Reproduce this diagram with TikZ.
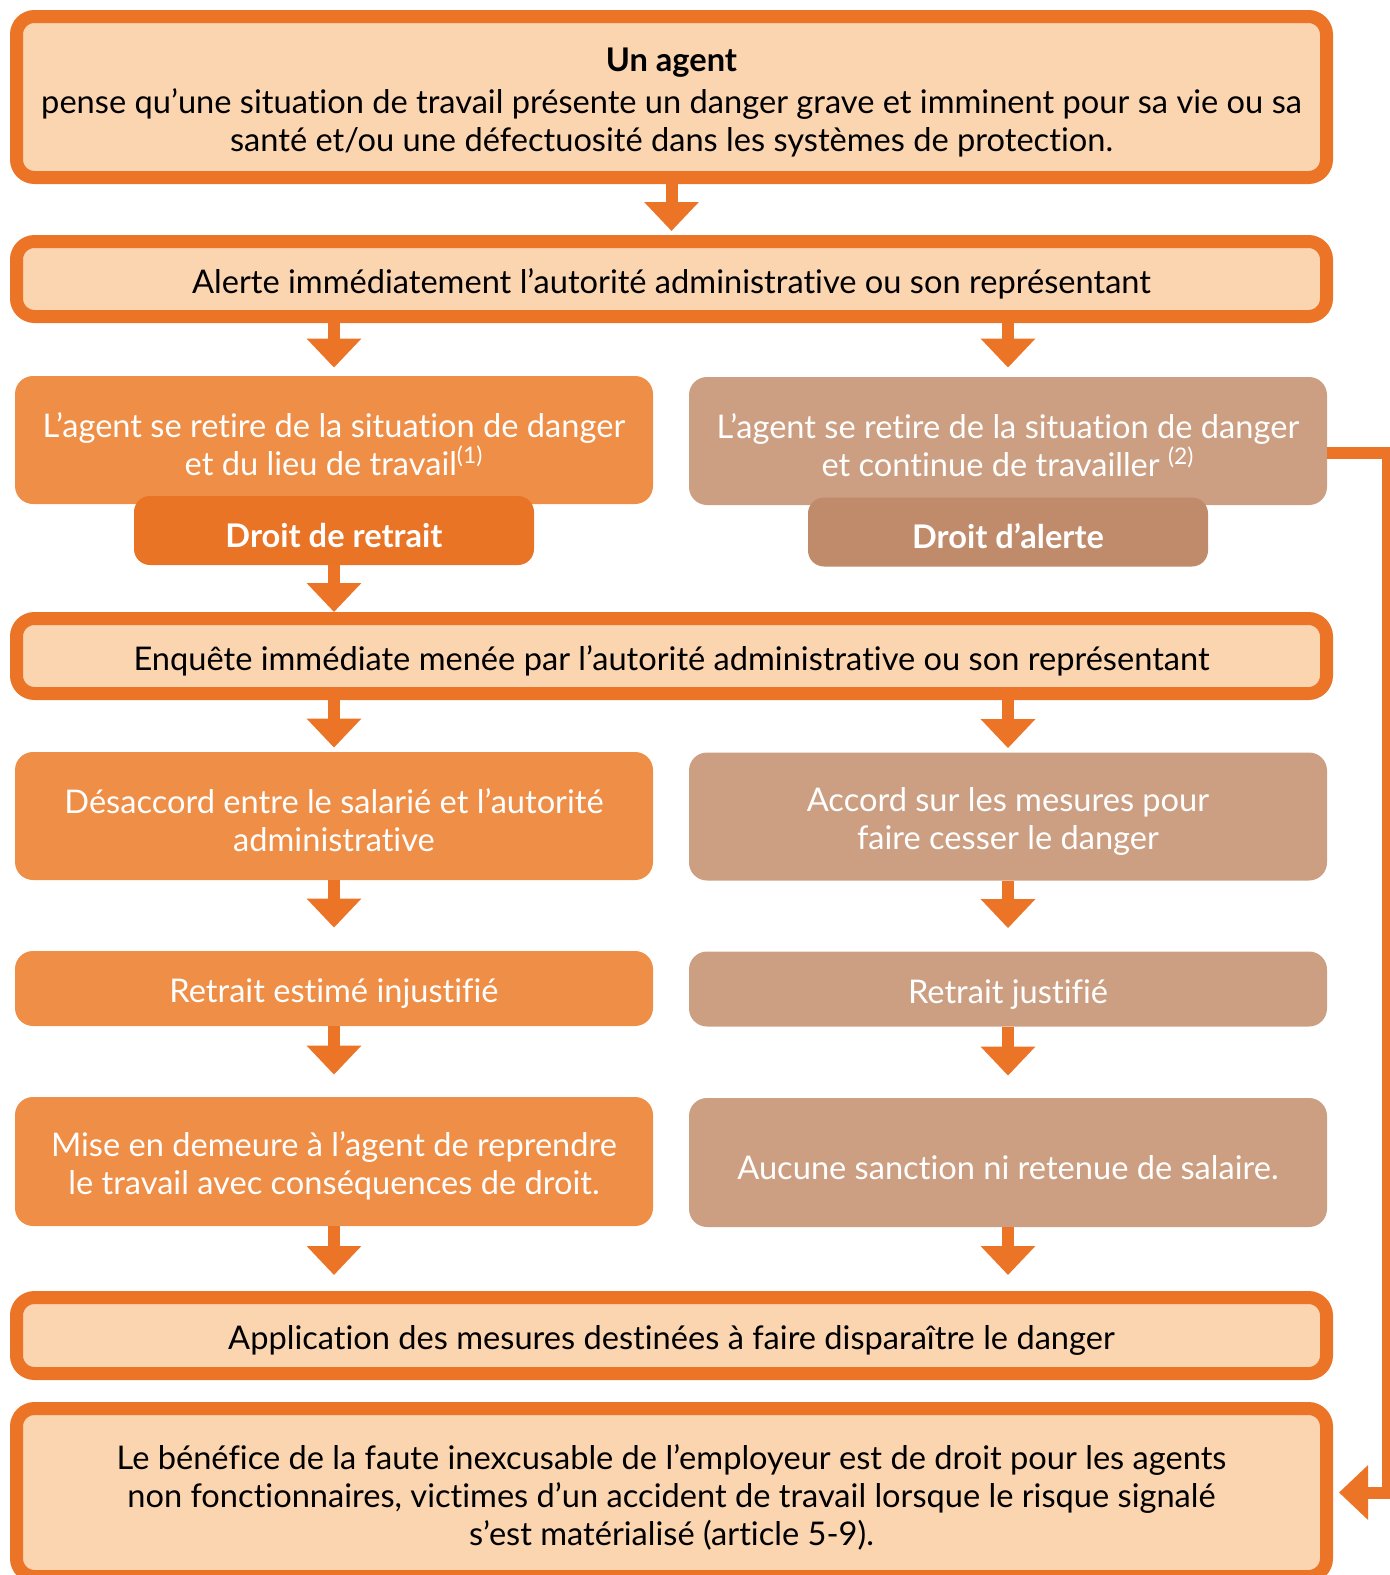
\documentclass[tikz,border=0pt]{standalone}
\usepackage{fontspec}
\setmainfont{Lato}[Ligatures=NoCommon]
\usetikzlibrary{arrows.meta}
\definecolor{trait}{HTML}{EC7427}
\definecolor{clair}{HTML}{FBD4B0}
\definecolor{orangeb}{HTML}{EF8E46}
\definecolor{orangef}{HTML}{EA7426}
\definecolor{beige}{HTML}{CC9F82}
\definecolor{beigef}{HTML}{BF8B6B}
\newcommand{\hautligne}{\rule{0pt}{17pt}}
\begin{document}
\begin{tikzpicture}[x=0.5pt,y=-0.5pt,
    every node/.style={align=center,inner sep=0pt,font=\fontsize{16.3}{19}\selectfont,
      execute at begin node={\hautligne}},
    cadre/.style={draw=trait,line width=6.5pt,fill=clair,rounded corners=9pt,minimum width=655pt},
    gauche/.style={fill=orangeb,text=white,rounded corners=9pt,minimum width=319pt,minimum height=64pt},
    droite/.style={gauche,fill=beige},
    etiq/.style={fill=orangef,text=white,rounded corners=8pt,minimum width=200pt,
      minimum height=34.5pt,font=\fontsize{16.3}{19}\selectfont\bfseries},
    fleche/.style={draw=trait,line width=6pt,-{Triangle[width=26.5pt,length=14.5pt]}}]
  \useasboundingbox (0,0) rectangle (1389,1575);
  % cadres pleine largeur
  \node[cadre,minimum height=80.5pt] (agent) at (671.5,97)
    {\hautligne\textbf{Un agent}\\[2pt]pense qu’une situation de travail présente un danger grave et imminent pour sa vie ou sa\\
     santé et/ou une défectuosité dans les systèmes de protection.};
  \node[cadre,minimum height=37.5pt] (alerte) at (671.5,279)
    {Alerte immédiatement l’autorité administrative ou son représentant};
  % les deux voies
  \node[gauche] (retire) at (334,440)
    {\hautligne L’agent se retire de la situation de danger\\ et du lieu de travail\textsuperscript{(1)}};
  \node[droite] (continue) at (1008,441)
    {\hautligne L’agent se retire de la situation de danger\\ et continue de travailler \textsuperscript{(2)}};
  \node[etiq] (retrait) at (334,530.5) {Droit de retrait};
  \node[etiq,fill=beigef] (dalerte) at (1008,532) {Droit d’alerte};
  \node[cadre,minimum height=37.5pt] (enquete) at (671.5,656)
    {Enquête immédiate menée par l’autorité administrative ou son représentant};
  \node[gauche] (desaccord) at (334,816)
    {\hautligne Désaccord entre le salarié et l’autorité\\ administrative};
  \node[droite] (accord) at (1008,816.5)
    {\hautligne Accord sur les mesures pour\\ faire cesser le danger};
  \node[gauche,minimum height=37.5pt] (injust) at (334,988.5) {Retrait estimé injustifié};
  \node[droite,minimum height=37.5pt] (just) at (1008,989) {Retrait justifié};
  \node[gauche,minimum height=64.5pt] (demeure) at (334,1161.5)
    {\hautligne Mise en demeure à l’agent de reprendre\\ le travail avec conséquences de droit.};
  \node[droite,minimum height=64.5pt] (sanction) at (1008,1162.5)
    {Aucune sanction ni retenue de salaire.};
  \node[cadre,minimum height=38pt] (mesures) at (671.5,1335.5)
    {Application des mesures destinées à faire disparaître le danger};
  \node[cadre,minimum height=84pt] (faute) at (671.5,1492.5)
    {\hautligne Le bénéfice de la faute inexcusable de l’employeur est de droit pour les agents\\
     non fonctionnaires, victimes d’un accident de travail lorsque le risque signalé\\
     s’est matérialisé (article 5-9).};
  \coordinate (coude) at (1388,453);
  % fleches
  \draw[fleche,shorten >=2pt] (agent) -- (alerte);
  \draw[fleche,shorten >=4pt] (alerte.south -| retire) -- (retire.north);
  \draw[fleche,shorten >=4.5pt] (alerte.south -| continue) -- (continue.north);
  \draw[fleche] (retrait) -- (retrait |- enquete.north);
  \draw[fleche,shorten >=2pt] (enquete.south -| desaccord) -- (desaccord.north);
  \draw[fleche,shorten >=2pt] (enquete.south -| accord) -- (accord.north);
  \draw[fleche,shorten >=11.5pt] (desaccord) -- (injust);
  \draw[fleche,shorten >=11.5pt] (accord) -- (just);
  \draw[fleche,shorten >=11pt] (injust) -- (demeure);
  \draw[fleche,shorten >=11pt] (just) -- (sanction);
  \draw[fleche,shorten >=8pt] (demeure.south) -- (demeure.south |- mesures.north);
  \draw[fleche,shorten >=8pt] (sanction.south) -- (sanction.south |- mesures.north);
  \draw[fleche,shorten >=3pt] ([yshift=-6pt]continue.east) -- (coude) |- (faute.east);
\end{tikzpicture}
\end{document}
